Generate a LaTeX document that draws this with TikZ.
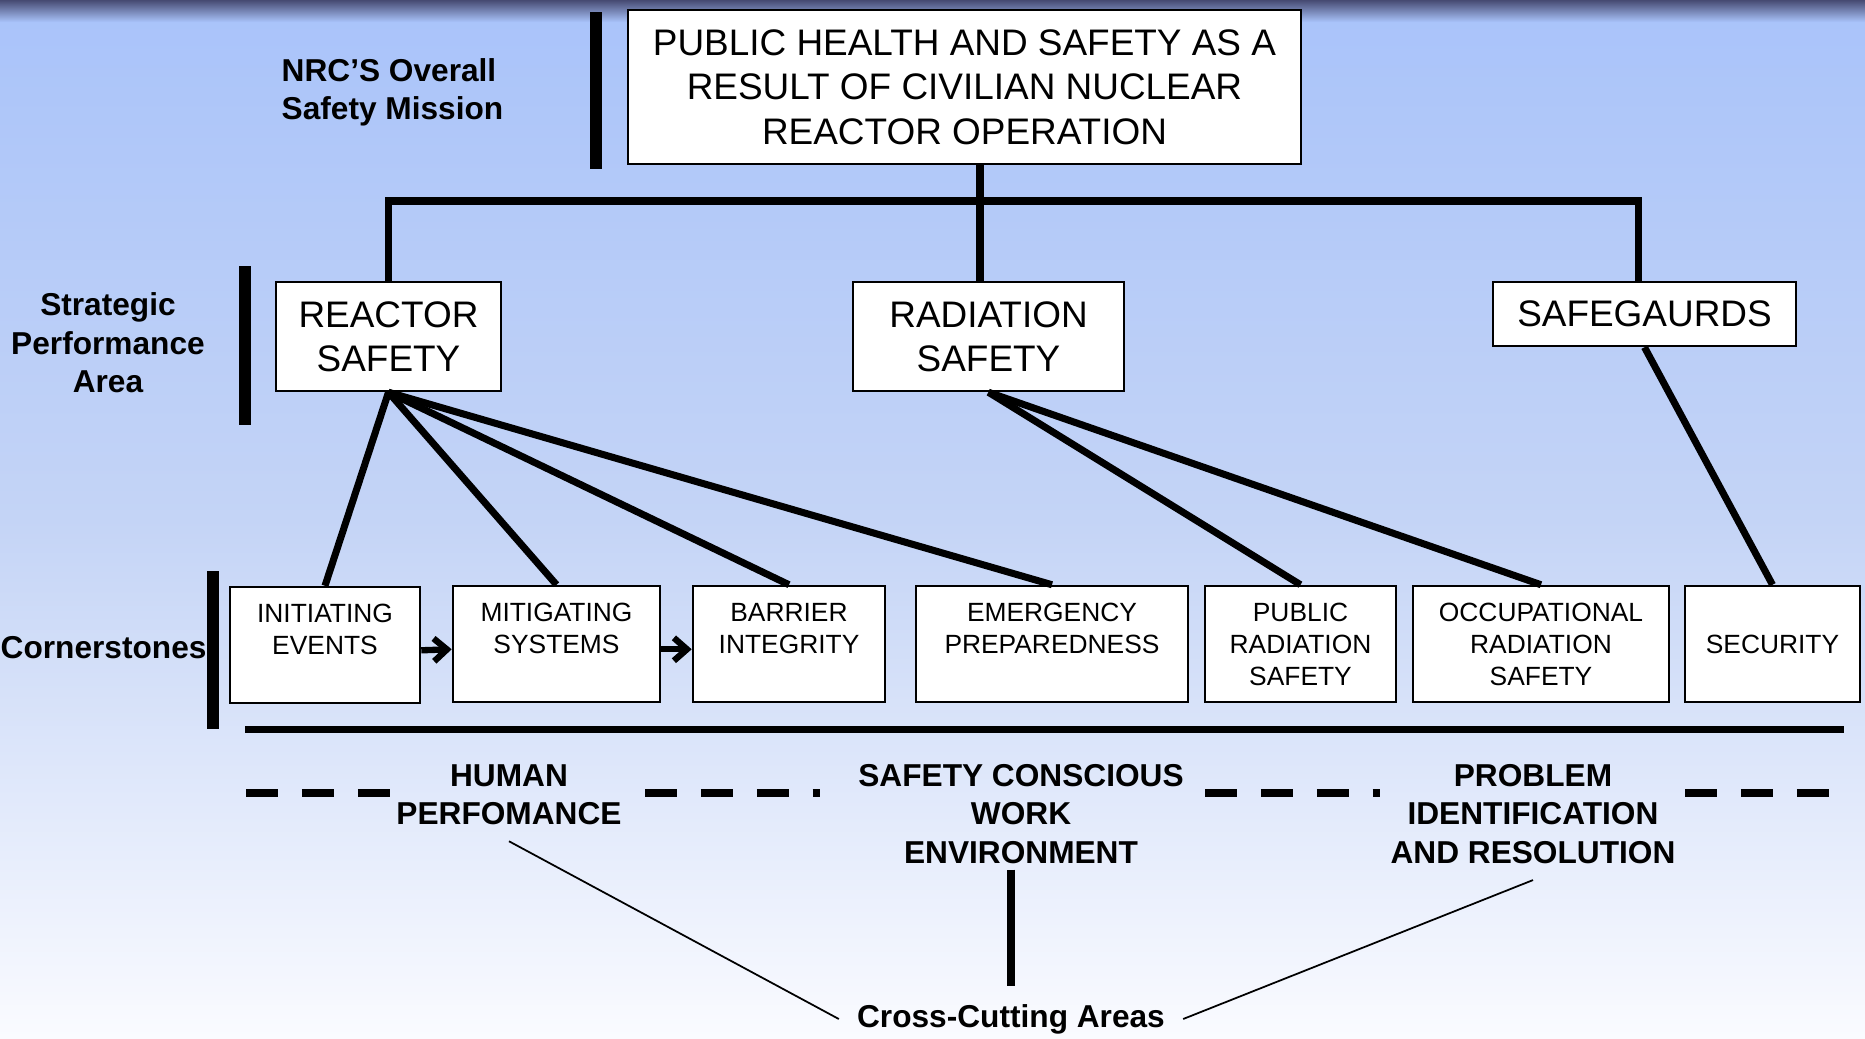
\documentclass[tikz,border=0pt]{standalone}
\usepackage{fontspec}
\setmainfont{Liberation Sans}
\usetikzlibrary{arrows.meta}

\definecolor{bgtop}{RGB}{169,195,250}
\definecolor{bgmid}{RGB}{196,212,246}
\definecolor{bgbot}{RGB}{250,251,255}
\definecolor{band}{RGB}{70,74,114}

\tikzset{
  box/.style={draw=black, line width=0.7pt, fill=white, inner sep=0pt, align=center,
    font=\fontsize{10.5}{12.6}\selectfont},
  cbox/.style={draw=black, line width=0.7pt, fill=white, inner sep=0pt, align=center,
    minimum height=1.16cm, font=\fontsize{7.5}{9.1}\selectfont},
  lbl/.style={inner sep=0pt, align=center, font=\fontsize{9}{10.9}\selectfont\bfseries},
  link/.style={line width=2pt},
  bar/.style={line width=3.3pt},
  thinlink/.style={line width=0.5pt},
  seq/.style={line width=1.8pt, -{Straight Barb[length=3.7pt,width=6.5pt]}},
  dashline/.style={line width=2.2pt, dash pattern=on 9.1pt off 6.8pt},
}

\begin{document}
\begin{tikzpicture}[x=0.01cm, y=-0.01cm]
% background
\fill[top color=bgtop, bottom color=bgbot, middle color=bgmid] (0,0) rectangle (1865,1038);
\fill[top color=band, bottom color=bgtop] (0,0) rectangle (1865,22);
\useasboundingbox (0,0) rectangle (1865,1038);

% mission and strategic areas
\node[box, minimum width=6.73cm, minimum height=1.54cm] (mission) at (964.5,87)
  {PUBLIC HEALTH AND SAFETY AS A\\RESULT OF CIVILIAN NUCLEAR\\REACTOR OPERATION};
\node[box, minimum width=2.25cm, minimum height=1.09cm] (reactor) at (388.5,336.5) {REACTOR\\SAFETY};
\node[box, minimum width=2.71cm, minimum height=1.09cm] (radiation) at (988.5,336.5) {RADIATION\\SAFETY};
\node[box, minimum width=3.03cm, minimum height=0.64cm] (safeguards) at (1644.5,314) {SAFEGAURDS};

% cornerstones
\node[cbox, minimum width=1.90cm] (initiating) at (325,645) {INITIATING\\EVENTS\\\phantom{X}};
\node[cbox, minimum width=2.07cm] (mitigating) at (556.5,644) {MITIGATING\\SYSTEMS\\\phantom{X}};
\node[cbox, minimum width=1.92cm] (barrier) at (789,644) {BARRIER\\INTEGRITY\\\phantom{X}};
\node[cbox, minimum width=2.72cm] (emergency) at (1052,644) {EMERGENCY\\PREPAREDNESS\\\phantom{X}};
\node[cbox, minimum width=1.91cm] (public) at (1300.5,644) {PUBLIC\\RADIATION\\SAFETY};
\node[cbox, minimum width=2.56cm] (occupational) at (1541,644) {OCCUPATIONAL\\RADIATION\\SAFETY};
\node[cbox, minimum width=1.75cm] (security) at (1772.5,644) {SECURITY};

% row labels
\node[lbl, anchor=west, align=left] (nrc) at (281,92) {NRC’S Overall\\Safety Mission};
\node[lbl] (spa) at (108,343) {Strategic\\Performance\\Area};
\node[lbl, anchor=west] (corner) at (0,648) {Cornerstones};
\draw[bar] (596,12) -- (596,169);
\draw[bar] (245,266) -- (245,425);
\draw[bar] (213,571) -- (213,729);

% tree
\coordinate (bus) at (980,201);
\draw[link] (mission.south -| bus) -- (bus);
\draw[link] (reactor.north) |- (bus) -| ([xshift=-1.7pt]safeguards.north);
\draw[link] (bus) -- (bus |- radiation.north);
\foreach \c in {initiating,mitigating,barrier,emergency}
  \draw[link] (reactor.south) -- (\c.north);
\foreach \c in {public,occupational}
  \draw[link] (radiation.south) -- (\c.north);
\draw[link] (safeguards.south) -- (security.north);
\draw[seq] ([yshift=-1.5pt]initiating.east) -- ([yshift=-1.5pt]mitigating.west);
\draw[seq] ([yshift=-1.5pt]mitigating.east) -- ([yshift=-1.5pt]barrier.west);

% cross-cutting areas
\draw[link] (245,729) -- (1844,729);
\node[lbl, inner sep=4.5pt] (human) at (509,794.5) {HUMAN\\PERFOMANCE};
\node[lbl, inner sep=4.5pt] (scwe) at (1021,814) {SAFETY CONSCIOUS\\WORK\\ENVIRONMENT};
\node[lbl, inner sep=4.5pt] (pira) at (1533,814) {PROBLEM\\IDENTIFICATION\\AND RESOLUTION};
\node[lbl, inner sep=5pt] (cross) at (1011,1019) {Cross-Cutting Areas};
\draw[dashline] (246,793) -- (390,793);
\draw[dashline] (645,793) -- (820,793);
\draw[dashline] (1205,793) -- (1380,793);
\draw[dashline] (1685,793) -- (1830,793);
\draw[thinlink] (human.south) -- (cross.west);
\draw[thinlink] (pira.south) -- (cross.east);
\draw[link] ([yshift=3pt]cross.north |- scwe.south) -- (cross.north);
\end{tikzpicture}
\end{document}
